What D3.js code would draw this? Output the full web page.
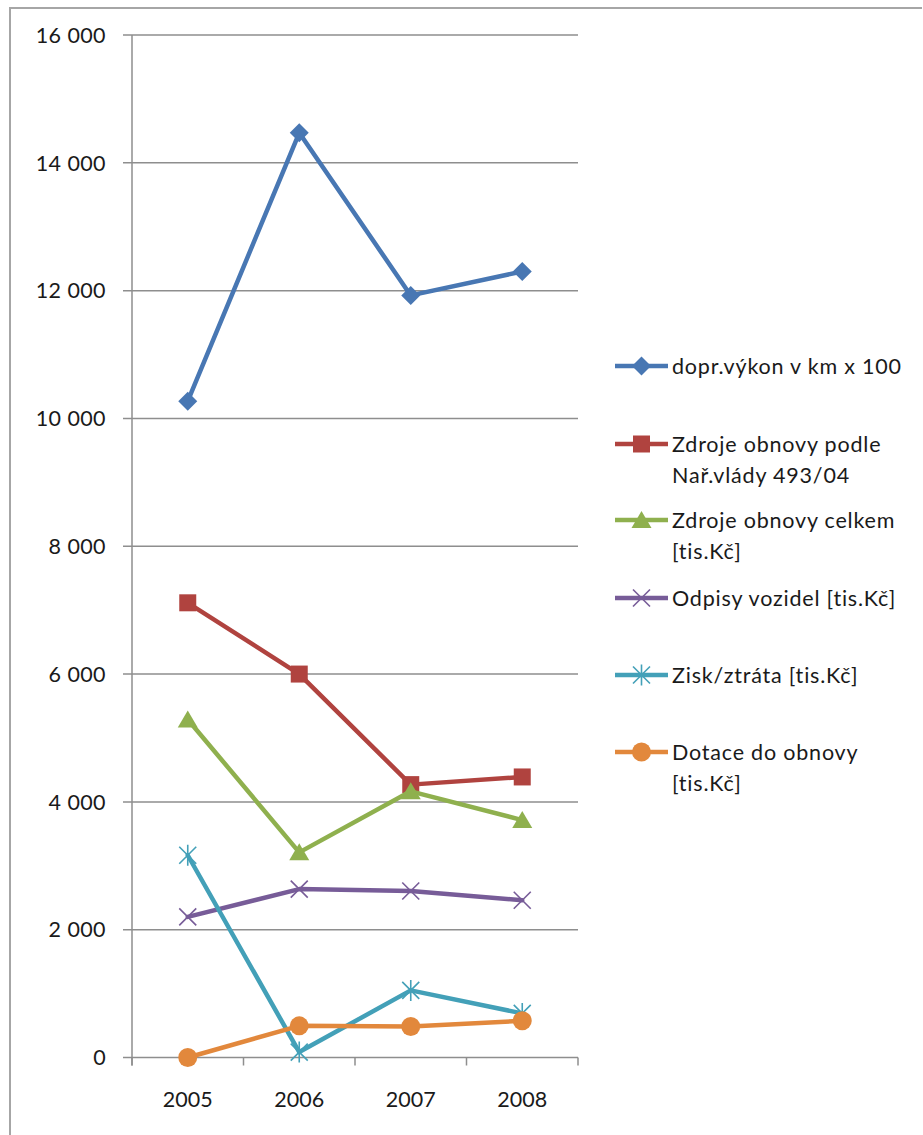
<!DOCTYPE html>
<html>
<head>
<meta charset="utf-8">
<script src="https://cdn.jsdelivr.net/npm/d3@7/dist/d3.min.js"></script>
<style>
  html, body { margin: 0; padding: 0; background: #fff; }
  svg { display: block; }
  text { font-family: Lato, "Open Sans", sans-serif; fill: #1a1a1a; }
</style>
</head>
<body>
<svg id="chart" width="923" height="1135"></svg>
<script>
// Years on the category axis
const years = ["2005", "2006", "2007", "2008"];

// Series values per year
const doprVykon   = [10270, 14470, 11925, 12300];
const zdrojeNar   = [7115, 6000, 4270, 4390];
const zdrojeCelk  = [5290, 3210, 4165, 3715];
const odpisy      = [2200, 2635, 2605, 2460];
const ziskZtrata  = [3165, 85, 1050, 690];
const dotace      = [0, 495, 485, 575];

// Legend labels (line breaks as shown)
const seriesNames = [
  ["dopr.výkon v km x 100"],
  ["Zdroje obnovy podle", "Nař.vlády 493/04"],
  ["Zdroje obnovy celkem", "[tis.Kč]"],
  ["Odpisy vozidel [tis.Kč]"],
  ["Zisk/ztráta [tis.Kč]"],
  ["Dotace do obnovy", "[tis.Kč]"]
];

// Y axis ticks
const yTicks = [0, 2000, 4000, 6000, 8000, 10000, 12000, 14000, 16000];

const series = [
  { values: doprVykon,  color: "#4877b3", marker: "diamond" },
  { values: zdrojeNar,  color: "#b0433f", marker: "square" },
  { values: zdrojeCelk, color: "#8fb04e", marker: "triangle" },
  { values: odpisy,     color: "#775c98", marker: "x" },
  { values: ziskZtrata, color: "#43a0b8", marker: "star" },
  { values: dotace,     color: "#e2883c", marker: "circle" }
];
series.forEach((s, i) => s.name = seriesNames[i]);

const svg = d3.select("#chart");
const FONT = 21.5;

// Outer chart frame (left and top edges)
svg.append("path")
  .attr("d", "M10,1135 V8 H922")
  .attr("fill", "none")
  .attr("stroke", "#a6a6a6")
  .attr("stroke-width", 2);

const plot = { left: 132, right: 578, top: 35, bottom: 1057.5 };

const x = d3.scaleBand().domain(years).range([plot.left, plot.right]);
const y = d3.scaleLinear().domain([0, 16000]).range([plot.bottom, plot.top]);
const cx = d => x(d) + x.bandwidth() / 2;

const fmt = d3.formatLocale({ decimal: ",", thousands: "\u00a0", grouping: [3], currency: ["", ""] }).format(",d");

// Horizontal gridlines
svg.append("g").selectAll("line").data(yTicks).join("line")
  .attr("x1", plot.left - 9).attr("x2", plot.right)
  .attr("y1", d => y(d)).attr("y2", d => y(d))
  .attr("stroke", "#8e8e8e").attr("stroke-width", 1.5);

// Y axis line
svg.append("line")
  .attr("x1", plot.left).attr("x2", plot.left)
  .attr("y1", plot.top).attr("y2", plot.bottom + 8)
  .attr("stroke", "#8e8e8e").attr("stroke-width", 1.5);

// Y tick labels
svg.append("g").selectAll("text").data(yTicks).join("text")
  .attr("x", 106).attr("y", d => y(d))
  .attr("dy", "0.36em")
  .attr("text-anchor", "end")
  .attr("font-size", FONT)
  .attr("letter-spacing", 0.4)
  .text(d => fmt(d));

// X tick marks at category boundaries
const boundaries = years.map(d => x(d)).concat([plot.right]);
svg.append("g").selectAll("line").data(boundaries).join("line")
  .attr("x1", d => d).attr("x2", d => d)
  .attr("y1", plot.bottom).attr("y2", plot.bottom + 8)
  .attr("stroke", "#8e8e8e").attr("stroke-width", 1.5);

// X labels
svg.append("g").selectAll("text").data(years).join("text")
  .attr("x", d => cx(d)).attr("y", 1099)
  .attr("dy", "0.36em")
  .attr("text-anchor", "middle")
  .attr("font-size", FONT)
  .text(d => d);

// Marker shapes
function markerPath(type) {
  switch (type) {
    case "diamond": { const r = 9.5; return `M0,${-r}L${r},0L0,${r}L${-r},0Z`; }
    case "square":  { const r = 8.5; return `M${-r},${-r}H${r}V${r}H${-r}Z`; }
    case "triangle":return "M0,-9L10,8H-10Z";
    case "x":       { const r = 8.5; return `M${-r},${-r}L${r},${r}M${-r},${r}L${r},${-r}`; }
    case "star":    { const r = 8.5; return `M${-r},${-r}L${r},${r}M${-r},${r}L${r},${-r}M0,${-r - 2}V${r + 2}`; }
    case "circle":  { const r = 9.5; return `M${r},0A${r},${r},0,1,1,${-r},0A${r},${r},0,1,1,${r},0Z`; }
  }
}
function drawMarker(g, type, color) {
  const p = g.append("path").attr("d", markerPath(type));
  if (type === "x" || type === "star") {
    p.attr("fill", "none").attr("stroke", color).attr("stroke-width", 1.6);
  } else {
    p.attr("fill", color).attr("stroke", "none");
  }
}

const line = d3.line().x((d, i) => cx(years[i])).y(d => y(d));

// Series lines and markers
const gSeries = svg.append("g");
series.forEach(s => {
  gSeries.append("path")
    .attr("d", line(s.values))
    .attr("fill", "none")
    .attr("stroke", s.color)
    .attr("stroke-width", 4.5)
    .attr("stroke-linejoin", "round")
    .attr("stroke-linecap", "round");
  s.values.forEach((v, i) => {
    const g = gSeries.append("g").attr("transform", `translate(${cx(years[i])},${y(v)})`);
    drawMarker(g, s.marker, s.color);
  });
});

// Legend
const legendRows = [366, 444, 520, 598, 675, 752];
const legend = svg.append("g");
series.forEach((s, i) => {
  const ly = legendRows[i];
  legend.append("line")
    .attr("x1", 615).attr("x2", 668)
    .attr("y1", ly).attr("y2", ly)
    .attr("stroke", s.color).attr("stroke-width", 4.5);
  const g = legend.append("g").attr("transform", `translate(641.5,${ly})`);
  drawMarker(g, s.marker, s.color);
  const t = legend.append("text")
    .attr("x", 672).attr("y", ly)
    .attr("font-size", FONT)
    .attr("letter-spacing", 0.8);
  s.name.forEach((ln, j) => {
    t.append("tspan").attr("x", 672).attr("dy", j === 0 ? "0.36em" : 31).text(ln);
  });
});
</script>
</body>
</html>
